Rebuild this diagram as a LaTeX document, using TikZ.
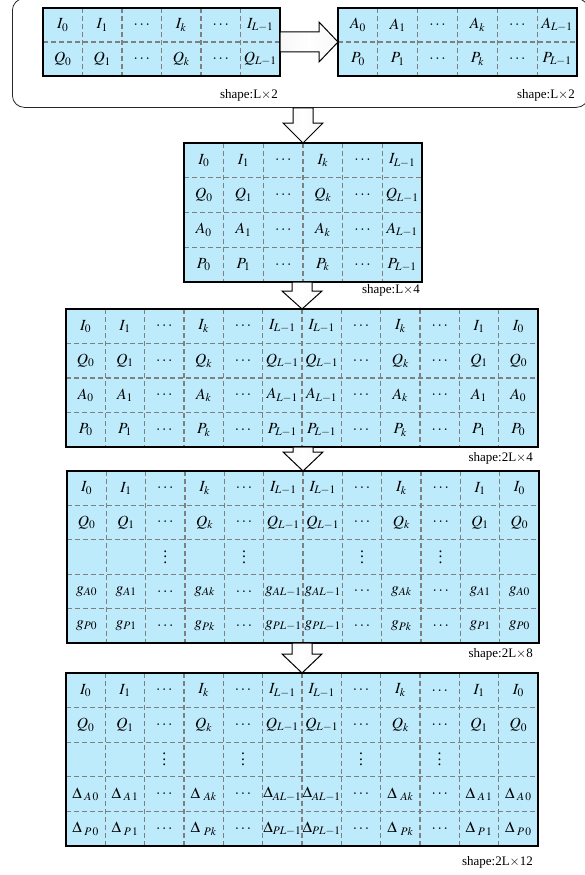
\documentclass[tikz,border=0pt]{standalone}
\usepackage{mathptmx}
\usepackage{fontspec}
\setmainfont{Liberation Serif}
\usetikzlibrary{calc}
\definecolor{cellblue}{RGB}{190,235,252}
\newcommand\myvdots{\vbox{\baselineskip=5.5pt\lineskiplimit=0pt\hbox{.}\hbox{.}\hbox{.}}}
\tikzset{
  tablebox/.style={fill=cellblue, draw=black, line width=1.4pt, inner sep=0pt, outer sep=0pt},
  tableborder/.style={draw=black, line width=1.4pt},
  gridline/.style={draw=black!50, line width=1.1pt, dash pattern=on 5pt off 3pt},
  celltext/.style={inner sep=0pt, font=\fontsize{15.5}{18}\selectfont},
  shapelabel/.style={anchor=base east, inner sep=0pt, font=\fontsize{13}{15}\selectfont},
  bigarrow/.style={draw=black, line width=1pt, line join=miter, left color=gray!6, right color=gray!6, middle color=white},
  container/.style={draw=black!85, line width=0.8pt, rounded corners=12pt, inner sep=0pt, anchor=north west}
}
% #1 name, #2 x, #3 y, #4 width, #5 height, #6 ncols, #7 nrows, #8 rows
\newcommand\drawtable[8]{%
  \node[tablebox, minimum width=#4pt, minimum height=#5pt, anchor=north west] (#1) at (#2,#3) {};
  \pgfmathsetmacro\cw{#4/#6}\pgfmathsetmacro\rh{#5/#7}%
  \pgfmathtruncatemacro\lastc{#6-1}\pgfmathtruncatemacro\lastr{#7-1}%
  \foreach \i in {1,...,\lastc}
    \draw[gridline] ($(#1.north west)+({\i*\cw},0)$) -- ($(#1.south west)+({\i*\cw},0)$);
  \foreach \j in {1,...,\lastr}
    \draw[gridline] ($(#1.north west)+(0,{\j*\rh})$) -- ($(#1.north east)+(0,{\j*\rh})$);
  \foreach \row [count=\r] in {#8} {
    \foreach \cell [count=\c] in \row {
      \node[celltext] (#1-\r-\c) at ($(#1.north west)+({(\c-0.5)*\cw},{(\r-0.5)*\rh})$) {$\cell$};
    }
  }
  \draw[tableborder] (#1.north west) rectangle (#1.south east);
}
\newcommand\harrow[2]{%
  \path[bigarrow] ($(#1)+(0,-10)$) -- ($(#2)+(-19,-10)$) -- ($(#2)+(-19,-20)$) -- (#2)
    -- ($(#2)+(-19,20)$) -- ($(#2)+(-19,10)$) -- ($(#1)+(0,10)$) -- cycle;}
\newcommand\varrow[3]{%
  \path[bigarrow] ($(#1)+(-10,0)$) -- ($(#2)+(-10,-#3)$) -- ($(#2)+(-20,-#3)$) -- (#2)
    -- ($(#2)+(20,-#3)$) -- ($(#2)+(10,-#3)$) -- ($(#1)+(10,0)$) -- cycle;}
\begin{document}
\begin{tikzpicture}[x=1pt,y=-1pt]
\useasboundingbox (0,0) rectangle (584,875);
\node[container, minimum width=576pt, minimum height=109pt] (box) at (12,-2) {};

\drawtable{tIQ}{43}{8}{237}{68}{6}{2}{{I_0,I_1,\cdots,I_k,\cdots,I_{L-1}},{Q_0,Q_1,\cdots,Q_k,\cdots,Q_{L-1}}}
\drawtable{tAP}{338}{8}{239}{68}{6}{2}{{A_0,A_1,\cdots,A_k,\cdots,A_{L-1}},{P_0,P_1,\cdots,P_k,\cdots,P_{L-1}}}
\node[shapelabel] (s1) at (278,98) {shape:L$\times$2};
\node[shapelabel] (s2) at (575,98) {shape:L$\times$2};

\drawtable{tL4}{184}{143}{238}{139}{6}{4}{{I_0,I_1,\cdots,I_k,\cdots,I_{L-1}},{Q_0,Q_1,\cdots,Q_k,\ldots,Q_{L-1}},{A_0,A_1,\cdots,A_k,\cdots,A_{L-1}},{P_0,P_1,\cdots,P_k,\cdots,P_{L-1}}}
\node[shapelabel] (s3) at (420,293) {shape:L$\times$4};

\drawtable{tA}{66}{309}{472}{138}{12}{4}{{I_0,I_1,\cdots,I_k,\cdots,I_{L-1},I_{L-1},\cdots,I_k,\cdots,I_1,I_0},{Q_0,Q_1,\ldots,Q_k,\cdots,Q_{L-1},Q_{L-1},\cdots,Q_k,\cdots,Q_1,Q_0},{A_0,A_1,\cdots,A_k,\cdots,A_{L-1},A_{L-1},\cdots,A_k,\cdots,A_1,A_0},{P_0,P_1,\cdots,P_k,\ldots,P_{L-1},P_{L-1},\cdots,P_k,\ldots,P_1,P_0}}
\node[shapelabel] (s4) at (533,461) {shape:2L$\times$4};

\drawtable{tB}{67}{471}{472}{172}{12}{5}{{I_0,I_1,\cdots,I_k,\cdots,I_{L-1},I_{L-1},\cdots,I_k,\cdots,I_1,I_0},{Q_0,Q_1,\cdots,Q_k,\cdots,Q_{L-1},Q_{L-1},\cdots,Q_k,\cdots,Q_1,Q_0},{{},{},\myvdots,{},\myvdots,{},{},\myvdots,{},\myvdots,{},{}},{g_{A0},g_{A1},\ldots,g_{Ak},\ldots,g_{AL-1},g_{AL-1},\cdots,g_{Ak},\cdots,g_{A1},g_{A0}},{g_{P0},g_{P1},\cdots,g_{Pk},\cdots,g_{PL-1},g_{PL-1},\cdots,g_{Pk},\cdots,g_{P1},g_{P0}}}
\node[shapelabel] (s5) at (533,657) {shape:2L$\times$8};

\drawtable{tC}{66}{673}{472}{173}{12}{5}{{I_0,I_1,\cdots,I_k,\cdots,I_{L-1},I_{L-1},\cdots,I_k,\ldots,I_1,I_0},{Q_0,Q_1,\cdots,Q_k,\cdots,Q_{L-1},Q_{L-1},\cdots,Q_k,\ldots,Q_1,Q_0},{{},{},\myvdots,{},\myvdots,{},{},\myvdots,{},\myvdots,{},{}},{\Delta_{\;A\,0},\Delta_{\;A\,1},\cdots,\Delta_{\;\,Ak},\cdots,\Delta_{AL-1},\Delta_{AL-1},\cdots,\Delta_{\;\,Ak},\cdots,\Delta_{\;A\,1},\Delta_{\;A\,0}},{\Delta_{\;P\,0},\Delta_{\;P\,1},\cdots,\Delta_{\;\,Pk},\cdots,\Delta_{PL-1},\Delta_{PL-1},\cdots,\Delta_{\;\,Pk},\cdots,\Delta_{\;P\,1},\Delta_{\;P\,0}}}
\node[shapelabel] (s6) at (533,865) {shape:2L$\times$12};

\harrow{tIQ.east}{tAP.west}
\coordinate (a1) at (box.south -| tL4.north);
\varrow{a1}{tL4.north}{20}
\coordinate (a2) at (tL4.south -| tA.north);
\varrow{a2}{tA.north}{18}
\coordinate (a3) at (tA.south -| tB.north);
\varrow{a3}{tB.north}{19}
\coordinate (a4) at (tB.south -| tC.north);
\varrow{a4}{tC.north}{19}
\end{tikzpicture}
\end{document}
